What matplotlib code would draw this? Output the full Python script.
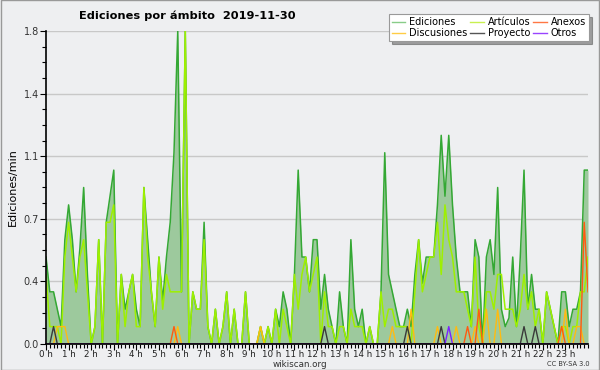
import numpy as np
import matplotlib
matplotlib.use('Agg')
from matplotlib import pyplot as plt
from matplotlib.ticker import MultipleLocator, FixedLocator

#=================================== data (edits per minute, 10 min slots) ===================================
ediciones = [0.5, 0.3, 0.3, 0.2, 0.1, 0.6, 0.8, 0.6, 0.3, 0.55, 0.9, 0.4, 0.0, 0.1, 0.6, 0.0,
             0.7, 0.85, 1.0, 0.0, 0.4, 0.2, 0.3, 0.4, 0.2, 0.1, 0.9, 0.6, 0.3, 0.1, 0.5, 0.25,
             0.5, 0.7, 1.1, 1.8, 0.3, 1.8, 0.0, 0.3, 0.2, 0.2, 0.7, 0.1, 0.0, 0.2, 0.0, 0.1,
             0.3, 0.0, 0.2, 0.0, 0.0, 0.3, 0.0, 0.0, 0.0, 0.1, 0.0, 0.1, 0.0, 0.2, 0.1, 0.3,
             0.2, 0.0, 0.4, 1.0, 0.5, 0.5, 0.3, 0.6, 0.6, 0.2, 0.4, 0.2, 0.1, 0.0, 0.3, 0.1,
             0.0, 0.6, 0.2, 0.1, 0.2, 0.0, 0.1, 0.0, 0.0, 0.3, 1.1, 0.4, 0.3, 0.2, 0.1, 0.1,
             0.2, 0.1, 0.4, 0.6, 0.35, 0.5, 0.5, 0.5, 0.8, 1.2, 0.85, 1.2, 0.8, 0.5, 0.3, 0.3,
             0.3, 0.1, 0.6, 0.5, 0.0, 0.5, 0.6, 0.4, 0.9, 0.2, 0.1, 0.15, 0.5, 0.1, 0.5, 1.0,
             0.2, 0.4, 0.2, 0.2, 0.0, 0.3, 0.2, 0.1, 0.0, 0.3, 0.3, 0.1, 0.2, 0.2, 0.3, 1.0,
             1.0]
articulos = [0.4, 0.1, 0.1, 0.1, 0.0, 0.5, 0.7, 0.5, 0.3, 0.5, 0.6, 0.3, 0.0, 0.1, 0.6, 0.0,
             0.7, 0.7, 0.8, 0.0, 0.4, 0.1, 0.3, 0.4, 0.1, 0.1, 0.9, 0.5, 0.3, 0.1, 0.5, 0.2,
             0.4, 0.3, 0.3, 0.3, 0.3, 1.8, 0.0, 0.3, 0.2, 0.2, 0.6, 0.1, 0.0, 0.2, 0.0, 0.1,
             0.3, 0.0, 0.2, 0.0, 0.0, 0.3, 0.0, 0.0, 0.0, 0.1, 0.0, 0.1, 0.0, 0.2, 0.0, 0.2,
             0.1, 0.0, 0.4, 0.2, 0.4, 0.5, 0.3, 0.4, 0.5, 0.0, 0.3, 0.1, 0.1, 0.0, 0.1, 0.1,
             0.0, 0.2, 0.1, 0.1, 0.1, 0.0, 0.1, 0.0, 0.0, 0.3, 0.1, 0.2, 0.2, 0.1, 0.1, 0.1,
             0.1, 0.0, 0.3, 0.6, 0.3, 0.4, 0.5, 0.5, 0.7, 0.4, 0.8, 0.6, 0.5, 0.3, 0.3, 0.3,
             0.2, 0.1, 0.5, 0.1, 0.0, 0.3, 0.3, 0.2, 0.4, 0.4, 0.2, 0.2, 0.2, 0.1, 0.2, 0.4,
             0.2, 0.3, 0.1, 0.2, 0.0, 0.3, 0.2, 0.1, 0.0, 0.1, 0.1, 0.0, 0.1, 0.1, 0.3, 0.3,
             0.5]

# the small series only have a few non-zero slots
discusiones_slots = [3, 4, 5, 35, 57, 92, 97, 104, 109, 114, 117, 120, 138, 141, 142]
discusiones_vals = [0.1, 0.1, 0.1, 0.1, 0.1, 0.1, 0.2, 0.1, 0.1, 0.1, 0.2, 0.2, 0.2, 0.1, 0.1]
proyecto_slots = [2, 74, 96, 105, 127, 130]
proyecto_vals = [0.1, 0.1, 0.1, 0.1, 0.1, 0.1]
anexos_slots = [34, 112, 115, 137, 143, 144]
anexos_vals = [0.1, 0.1, 0.2, 0.1, 0.7, 0.3]
otros_slots = [107]
otros_vals = [0.1]

hour_labels = ['%d h' % h for h in range(24)]
y_ticks = [0.0, 0.36, 0.72, 1.08, 1.44, 1.8]

TITLE = 'Ediciones por ámbito  2019-11-30'
BG = '#eeeff1'

#=================================== build series ===================================
n = len(ediciones)
minutes = np.arange(n) * 10

def sparse(slots, vals):
  arr = np.zeros(n)
  arr[slots] = vals
  return arr

discusiones = sparse(discusiones_slots, discusiones_vals)
proyecto = sparse(proyecto_slots, proyecto_vals)
anexos = sparse(anexos_slots, anexos_vals)
otros = sparse(otros_slots, otros_vals)

#=================================== draw ===================================
fig = plt.figure(figsize=(6, 3.7), dpi=100, facecolor=BG)
ax = fig.add_axes([0.0767, 0.0703, 0.9033, 0.8459])
ax.set_facecolor(BG)

ax.fill_between(minutes, ediciones, color='#9dc99d', lw=0, zorder=2)
ax.plot(minutes, ediciones, color='#34a834', lw=1.1, zorder=3)
ax.plot(minutes, articulos, color='#9ef000', lw=1.1, zorder=4)
ax.plot(minutes, discusiones, color='#ffbb11', lw=1.0, zorder=5)
ax.plot(minutes, proyecto, color='#3a3a3a', lw=1.0, zorder=5)
ax.plot(minutes, anexos, color='#ff5a10', lw=1.0, zorder=6)
ax.plot(minutes, otros, color='#7a22ff', lw=1.0, zorder=6)

ax.set_xlim(0, 1440)
ax.set_ylim(0, 1.8)

ax.yaxis.set_major_locator(FixedLocator(y_ticks))
ax.set_yticklabels(['%.1f' % t for t in y_ticks])
ax.yaxis.set_minor_locator(MultipleLocator(0.09))
ax.xaxis.set_major_locator(FixedLocator(np.arange(24) * 60))
ax.set_xticklabels(hour_labels)
ax.xaxis.set_minor_locator(MultipleLocator(10))

ax.tick_params(axis='y', which='major', labelsize=7, length=4, width=0.8, color='black', pad=1,
               labelcolor='#333333')
ax.tick_params(axis='x', which='major', labelsize=6.3, length=4, width=0.8, color='black', pad=0.5,
               labelcolor='#222222')
ax.tick_params(axis='both', which='minor', length=3, width=0.8, color='black')
ax.grid(axis='y', color='#c8c8c8', lw=1.0, zorder=1)

for side in ['top', 'right']:
  ax.spines[side].set_visible(False)
ax.spines['left'].set_linewidth(1.2)
ax.spines['bottom'].set_linewidth(1.2)
ax.spines['left'].set_zorder(7)
ax.spines['bottom'].set_zorder(7)

ax.set_ylabel('Ediciones/min', fontsize=8, labelpad=4)
fig.text(0.312, 0.958, TITLE, ha='center', va='center', fontsize=8.2, fontweight='bold')
fig.text(0.5, 0.016, 'wikiscan.org', ha='center', va='center', fontsize=6.3, color='#333333')
fig.text(0.982, 0.016, 'CC BY-SA 3.0', ha='right', va='center', fontsize=4.8, color='#333333')

# legend (column order: Ediciones, Discusiones | Artículos, Proyecto | Anexos, Otros)
handles = [
  plt.Line2D([], [], color='#88cc88', lw=1),
  plt.Line2D([], [], color='#ffcc44', lw=1),
  plt.Line2D([], [], color='#c8f050', lw=1),
  plt.Line2D([], [], color='#555555', lw=1),
  plt.Line2D([], [], color='#ff7744', lw=1),
  plt.Line2D([], [], color='#9944ff', lw=1),
]
labels = ['Ediciones', 'Discusiones', 'Artículos', 'Proyecto', 'Anexos', 'Otros']
leg = fig.legend(handles, labels, ncol=3, loc='upper right', bbox_to_anchor=(0.99, 0.975),
                 fontsize=7, frameon=True, fancybox=False, shadow=True, handlelength=1.4,
                 handletextpad=0.4, columnspacing=0.3, labelspacing=0.15, borderpad=0.3)
leg.get_frame().set_edgecolor('#999999')
leg.get_frame().set_linewidth(0.8)

# thin border round the image
fig.patches.append(plt.Rectangle((0.001, 0.001), 0.998, 0.998, transform=fig.transFigure,
                                 fill=False, edgecolor='#999999', lw=1))

fig.savefig('out.png', dpi=100, facecolor=BG)
